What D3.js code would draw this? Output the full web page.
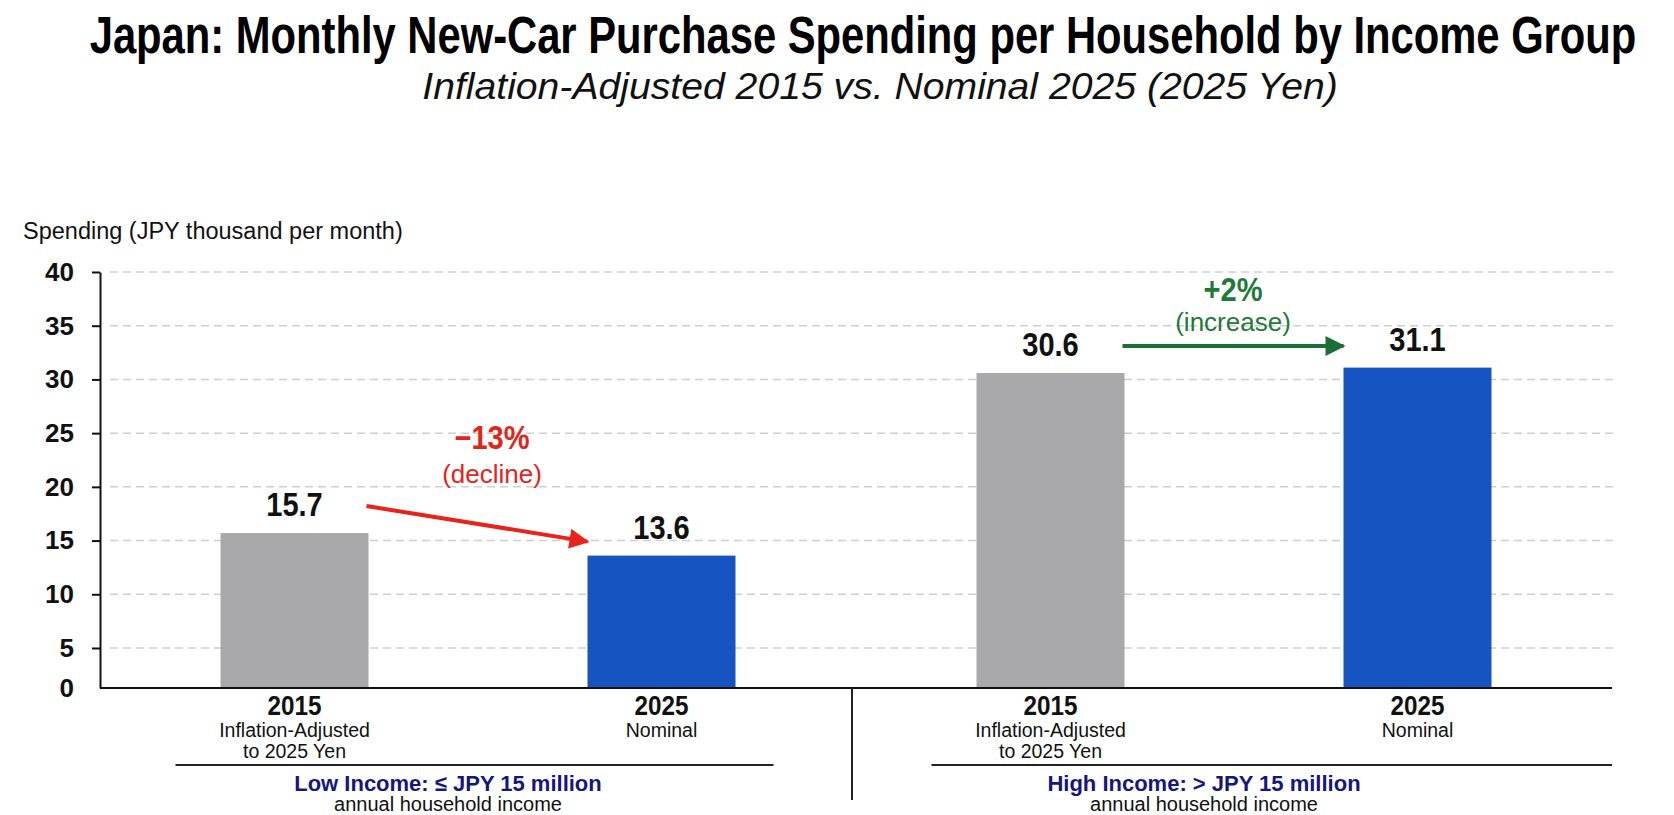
<!DOCTYPE html>
<html>
<head>
<meta charset="utf-8">
<script src="https://cdn.jsdelivr.net/npm/d3@7"></script>
<style>
  body { margin: 0; background: #fff; }
  svg { display: block; font-family: "Liberation Sans", Arial, sans-serif; }
  .grid line { stroke: #cfcfcf; stroke-width: 1.5; stroke-dasharray: 8 5; }
</style>
</head>
<body>
<svg id="chart" width="1674" height="815"></svg>
<script>
// data
var titleText = 'Japan: Monthly New-Car Purchase Spending per Household by Income Group';
var subtitleText = 'Inflation-Adjusted 2015 vs. Nominal 2025 (2025 Yen)';
var yTitle = 'Spending (JPY thousand per month)';
var yTicks = [0, 5, 10, 15, 20, 25, 30, 35, 40];

var groupKeys = ['low', 'high'];
var groupLabels = ['Low Income: \u2264 JPY 15 million', 'High Income: > JPY 15 million'];
var groupSub = 'annual household income';

var years = ['2015', '2025'];
var yearNotes = [['Inflation-Adjusted', 'to 2025 Yen'], ['Nominal']];

var lowIncome = [15.7, 13.6];
var highIncome = [30.6, 31.1];

var changeLabels = ['\u221213%', '+2%'];
var changeNotes = ['(decline)', '(increase)'];

var values = [lowIncome, highIncome];
var barColors = ['#a9a9ab', '#1655c1'];
var changeColors = [{ text: '#e3241b', line: '#e8231b' }, { text: '#1f7a3a', line: '#1b6e35' }];

var svg = d3.select('#chart');

// condensed look: squeeze a text horizontally around its anchor point
function squeeze(sel, x, y, k) {
  sel.attr('x', 0).attr('y', 0)
    .attr('transform', 'translate(' + x + ',' + y + ') scale(' + k + ',1)');
  return sel;
}

// scales
var y = d3.scaleLinear().domain([0, 5, 40]).range([688, 648, 272]);
var gx = d3.scaleBand().domain(groupKeys).range([100, 1612]);
var ix = d3.scalePoint().domain(years).range([0, gx.bandwidth()]).padding(0.53);
var barW = 148;

function cx(g, yr) { return gx(g) + ix(yr); }

// titles
var title = svg.append('text')
  .attr('text-anchor', 'middle')
  .attr('font-size', 52).attr('font-weight', 'bold')
  .attr('fill', '#000')
  .text(titleText);
squeeze(title, 863, 53, 1547 / title.node().getComputedTextLength());

var sub = svg.append('text')
  .attr('text-anchor', 'middle')
  .attr('font-size', 37).attr('font-style', 'italic')
  .attr('fill', '#111')
  .text(subtitleText);
squeeze(sub, 880, 99, 916 / sub.node().getComputedTextLength());

svg.append('text')
  .attr('x', 23).attr('y', 239)
  .attr('font-size', 23.5)
  .attr('fill', '#111')
  .text(yTitle);

// grid
svg.append('g').attr('class', 'grid')
  .selectAll('line')
  .data(yTicks.filter(function(d) { return d > 0; }))
  .enter().append('line')
  .attr('x1', 110).attr('x2', 1617)
  .attr('y1', function(d) { return y(d); })
  .attr('y2', function(d) { return y(d); });

// y axis
var yAxis = svg.append('g')
  .attr('transform', 'translate(100,0)')
  .call(d3.axisLeft(y).tickValues(yTicks).tickSize(8).tickSizeOuter(0).tickPadding(18));
yAxis.select('.domain').attr('stroke', '#111').attr('stroke-width', 2);
yAxis.selectAll('.tick line').attr('stroke', '#111').attr('stroke-width', 2);
yAxis.selectAll('.tick').filter(function(d) { return d === 0; }).select('line').remove();
yAxis.selectAll('.tick text')
  .attr('font-size', 26).attr('font-weight', 'bold')
  .attr('font-family', '"Liberation Sans", Arial, sans-serif')
  .attr('fill', '#111');

// bars
groupKeys.forEach(function(g, gi) {
  svg.append('g').selectAll('rect')
    .data(values[gi])
    .enter().append('rect')
    .attr('x', function(d, i) { return cx(g, years[i]) - barW / 2; })
    .attr('y', function(d) { return y(d); })
    .attr('width', barW)
    .attr('height', function(d) { return y(0) - y(d); })
    .attr('fill', function(d, i) { return barColors[i]; });

  values[gi].forEach(function(d, i) {
    var t = svg.append('text')
      .attr('text-anchor', 'middle')
      .attr('font-size', 33).attr('font-weight', 'bold')
      .attr('fill', '#111')
      .text(d.toFixed(1));
    squeeze(t, cx(g, years[i]), y(d) - 17, 0.88);
  });
});

// baseline
svg.append('line')
  .attr('x1', 100).attr('x2', 1612)
  .attr('y1', y(0)).attr('y2', y(0))
  .attr('stroke', '#111').attr('stroke-width', 2);

// category labels
groupKeys.forEach(function(g) {
  years.forEach(function(yr, i) {
    var t = svg.append('text')
      .attr('text-anchor', 'middle')
      .attr('font-size', 27).attr('font-weight', 'bold')
      .attr('fill', '#111')
      .text(yr);
    squeeze(t, cx(g, yr), 715, 0.9);
    yearNotes[i].forEach(function(n, k) {
      svg.append('text')
        .attr('x', cx(g, yr)).attr('y', 737 + k * 21)
        .attr('text-anchor', 'middle')
        .attr('font-size', 19.5)
        .attr('fill', '#111')
        .text(n);
    });
  });
});

// group brackets and labels
groupKeys.forEach(function(g, gi) {
  var left = cx(g, years[0]) - barW / 2 - 45;
  var right = gi === groupKeys.length - 1 ? gx(g) + gx.bandwidth() : cx(g, years[1]) + barW / 2 + 38;
  var mid = (cx(g, years[0]) + cx(g, years[1])) / 2 - 30;

  svg.append('line')
    .attr('x1', left).attr('x2', right)
    .attr('y1', 765).attr('y2', 765)
    .attr('stroke', '#222').attr('stroke-width', 2);

  svg.append('text')
    .attr('x', mid).attr('y', 791)
    .attr('text-anchor', 'middle')
    .attr('font-size', 22).attr('font-weight', 'bold')
    .attr('fill', '#16167f')
    .text(groupLabels[gi]);

  svg.append('text')
    .attr('x', mid).attr('y', 811)
    .attr('text-anchor', 'middle')
    .attr('font-size', 20)
    .attr('fill', '#111')
    .text(groupSub);
});

// divider between groups
svg.append('line')
  .attr('x1', gx(groupKeys[1]) - 4).attr('x2', gx(groupKeys[1]) - 4)
  .attr('y1', y(0)).attr('y2', 800)
  .attr('stroke', '#222').attr('stroke-width', 2);

// change arrows
var defs = svg.append('defs');
changeColors.forEach(function(c, i) {
  defs.append('marker')
    .attr('id', 'head' + i)
    .attr('markerUnits', 'userSpaceOnUse')
    .attr('viewBox', '0 0 10 10')
    .attr('refX', 9).attr('refY', 5)
    .attr('markerWidth', 22).attr('markerHeight', 20)
    .attr('orient', 'auto')
    .append('path')
    .attr('d', 'M0,0 L10,5 L0,10 Z')
    .attr('fill', c.line);
});

groupKeys.forEach(function(g, gi) {
  var v = values[gi];
  var x1 = cx(g, years[0]) + 72;
  var x2 = cx(g, years[1]) - 74;
  var y1 = y(v[0]) - 17 - 10;
  var y2 = v[1] < v[0] ? y(v[1]) - 17 + 3 : y1;
  var c = changeColors[gi];

  svg.append('line')
    .attr('x1', x1).attr('y1', y1)
    .attr('x2', x2).attr('y2', y2)
    .attr('stroke', c.line).attr('stroke-width', 4)
    .attr('marker-end', 'url(#head' + gi + ')');

  var mx = (x1 + x2) / 2 + (v[1] < v[0] ? 15 : 0);
  var my = (y1 + y2) / 2;
  var up = v[1] < v[0] ? [75, 41] : [45, 15];

  var big = svg.append('text')
    .attr('text-anchor', 'middle')
    .attr('font-size', 33).attr('font-weight', 'bold')
    .attr('fill', c.text)
    .text(changeLabels[gi]);
  squeeze(big, mx, my - up[0], 0.88);

  svg.append('text')
    .attr('x', mx).attr('y', my - up[1])
    .attr('text-anchor', 'middle')
    .attr('font-size', 26)
    .attr('fill', c.text)
    .text(changeNotes[gi]);
});
</script>
</body>
</html>
